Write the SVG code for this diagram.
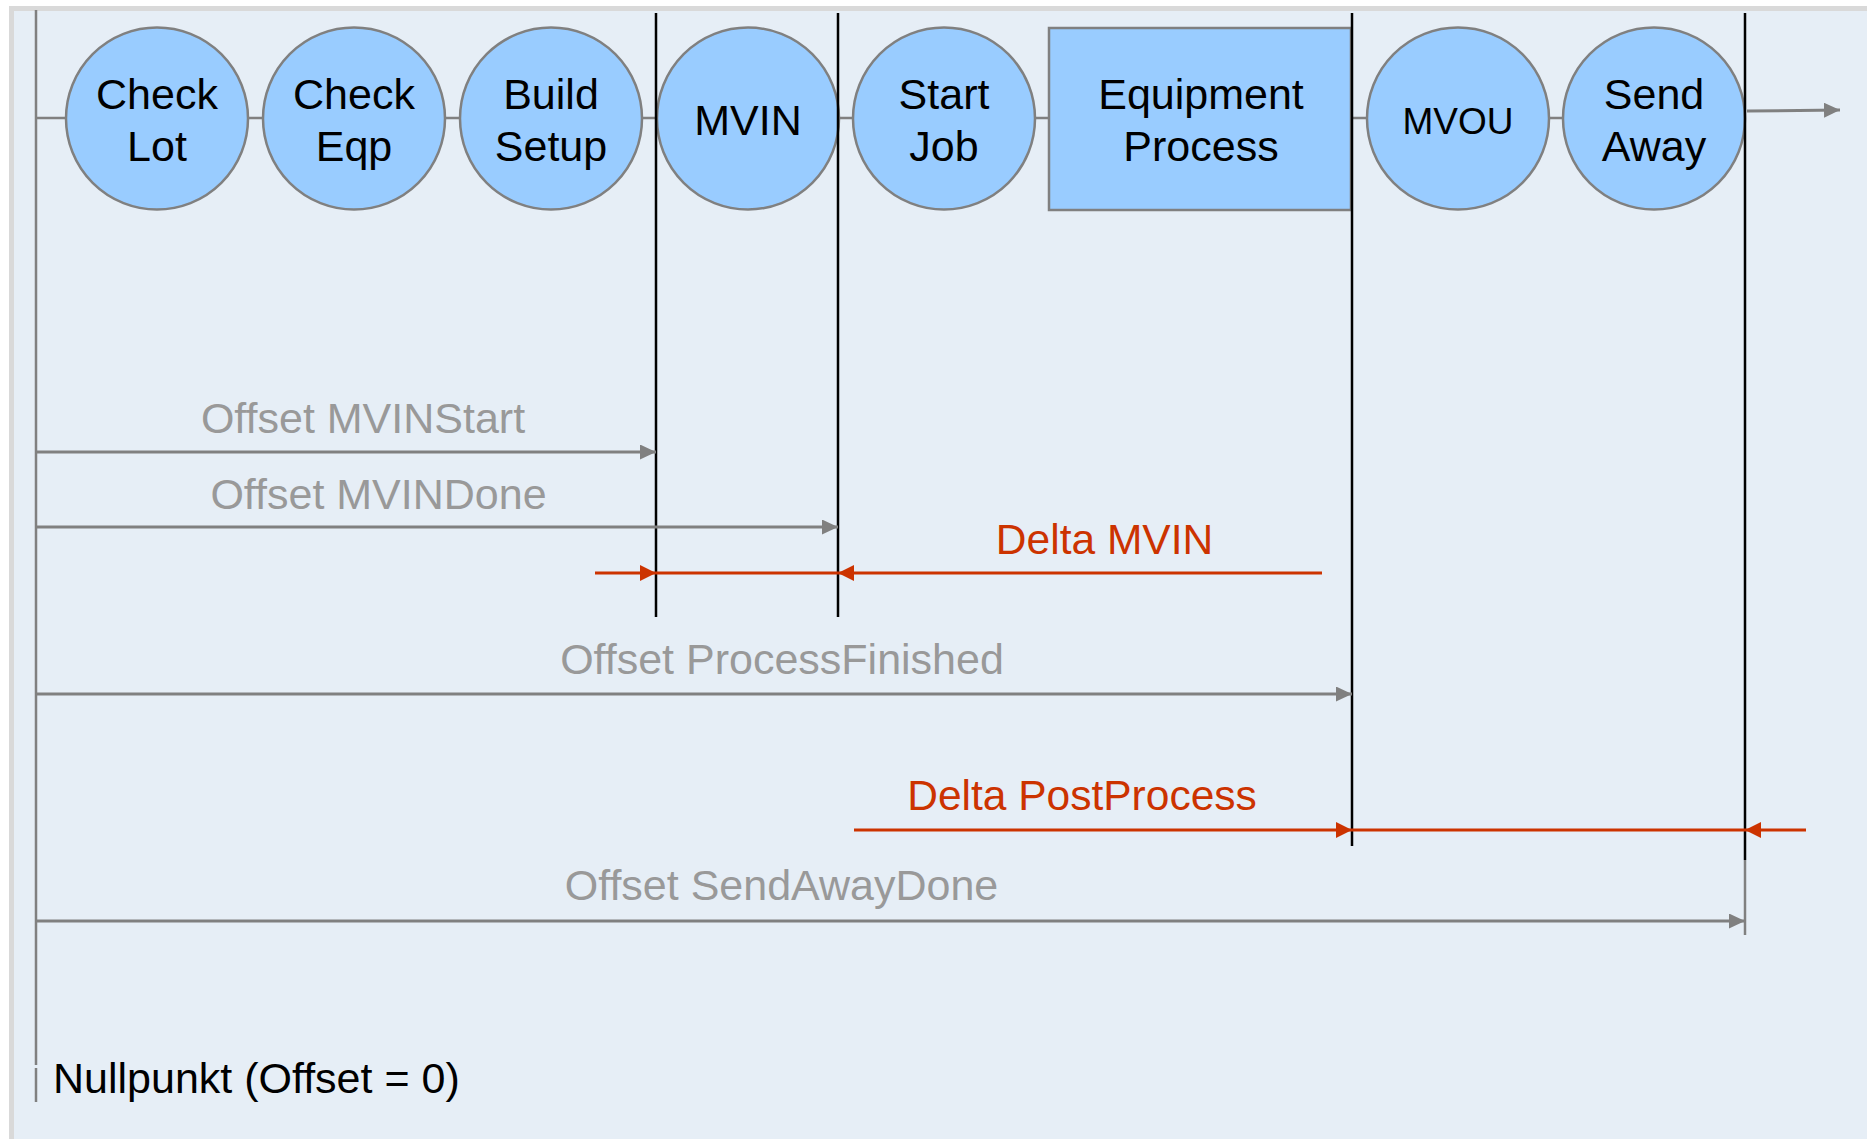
<svg xmlns="http://www.w3.org/2000/svg" width="1867" height="1139" viewBox="0 0 1867 1139">
<style>
.node{fill:#99CCFF;stroke:#808080;stroke-width:2.5}
.lbl{font-family:"Liberation Sans",Arial,sans-serif;font-size:43px;fill:#000;text-anchor:middle}
.glbl{font-family:"Liberation Sans",Arial,sans-serif;font-size:43px;fill:#999999;text-anchor:middle}
.rlbl{font-family:"Liberation Sans",Arial,sans-serif;font-size:42.5px;fill:#CC3300;text-anchor:middle}
.flow{stroke:#808080;stroke-width:2.5;fill:none}
.garr{stroke:#808080;stroke-width:3;fill:none;marker-end:url(#ga)}
.rarr{stroke:#CC3300;stroke-width:3.2;fill:none}
.vline{stroke:#000;stroke-width:2.5}
</style>
<defs>
<marker id="ga" markerUnits="userSpaceOnUse" markerWidth="17" markerHeight="16" refX="16" refY="7.5" orient="auto"><path d="M0,0 L16,7.5 L0,15 z" fill="#808080"/></marker>
<marker id="ra" markerUnits="userSpaceOnUse" markerWidth="17" markerHeight="17" refX="16" refY="8" orient="auto"><path d="M0,0 L16,8 L0,16 z" fill="#CC3300"/></marker>
</defs>
<rect x="0" y="0" width="1867" height="1139" fill="#FFFFFF"/>
<rect x="11.5" y="8.5" width="1870" height="1145" fill="#E6EEF6" stroke="#D9D9D9" stroke-width="5"/>

<g id="connectors">
<line class="flow" x1="36" y1="118" x2="1745" y2="118"/>
<line class="flow" x1="36" y1="10" x2="36" y2="1065"/>
<line class="flow" x1="36" y1="1068" x2="36" y2="1102"/>
<line class="garr" x1="1747" y1="111" x2="1840" y2="110"/>
</g>

<g id="node-check-lot"><circle class="node" cx="157" cy="118.5" r="91"/><text class="lbl" x="157" y="108.5">Check</text><text class="lbl" x="157" y="160.5">Lot</text></g>
<g id="node-check-eqp"><circle class="node" cx="354" cy="118.5" r="91"/><text class="lbl" x="354" y="108.5">Check</text><text class="lbl" x="354" y="160.5">Eqp</text></g>
<g id="node-build-setup"><circle class="node" cx="551" cy="118.5" r="91"/><text class="lbl" x="551" y="108.5">Build</text><text class="lbl" x="551" y="160.5">Setup</text></g>
<g id="node-mvin"><circle class="node" cx="748" cy="118.5" r="91"/><text class="lbl" x="748" y="135">MVIN</text></g>
<g id="node-start-job"><circle class="node" cx="944" cy="118.5" r="91"/><text class="lbl" x="944" y="108.5">Start</text><text class="lbl" x="944" y="160.5">Job</text></g>
<g id="node-equipment-process"><rect class="node" x="1049" y="28" width="302" height="182"/><text class="lbl" x="1201" y="108.5">Equipment</text><text class="lbl" x="1201" y="160.5">Process</text></g>
<g id="node-mvou"><circle class="node" cx="1458" cy="118.5" r="91"/><text class="lbl" style="font-size:37px" x="1458" y="133.5">MVOU</text></g>
<g id="node-send-away"><circle class="node" cx="1654" cy="118.5" r="91"/><text class="lbl" x="1654" y="108.5">Send</text><text class="lbl" x="1654" y="160.5">Away</text></g>

<g id="markers">
<line class="vline" x1="656" y1="13" x2="656" y2="617"/>
<line class="vline" x1="838" y1="13" x2="838" y2="617"/>
<line class="vline" x1="1352" y1="13" x2="1352" y2="846"/>
<line class="vline" x1="1745" y1="13" x2="1745" y2="860"/>
<line stroke="#808080" stroke-width="2.5" x1="1745" y1="860" x2="1745" y2="935"/>
</g>

<g id="offset-arrows">
<line class="garr" x1="36" y1="452" x2="656" y2="452"/>
<text class="glbl" x="363" y="433">Offset MVINStart</text>
<line class="garr" x1="36" y1="527" x2="838" y2="527"/>
<text class="glbl" x="378.5" y="509">Offset MVINDone</text>
<line class="garr" x1="36" y1="694" x2="1352" y2="694"/>
<text class="glbl" x="782" y="674">Offset ProcessFinished</text>
<line class="garr" x1="36" y1="921" x2="1745" y2="921"/>
<text class="glbl" x="781.5" y="900">Offset SendAwayDone</text>
</g>

<g id="delta-arrows">
<line class="rarr" x1="595" y1="573" x2="656" y2="573" marker-end="url(#ra)"/>
<line class="rarr" x1="656" y1="573" x2="838" y2="573"/>
<line class="rarr" x1="1322" y1="573" x2="838" y2="573" marker-end="url(#ra)"/>
<text class="rlbl" x="1104.5" y="554">Delta MVIN</text>
<line class="rarr" x1="854" y1="830" x2="1352" y2="830" marker-end="url(#ra)"/>
<line class="rarr" x1="1352" y1="830" x2="1745" y2="830"/>
<line class="rarr" x1="1806" y1="830" x2="1745" y2="830" marker-end="url(#ra)"/>
<text class="rlbl" x="1082" y="810">Delta PostProcess</text>
</g>

<text font-family="'Liberation Sans',Arial,sans-serif" font-size="43" fill="#000" x="53" y="1093">Nullpunkt (Offset = 0)</text>
</svg>
